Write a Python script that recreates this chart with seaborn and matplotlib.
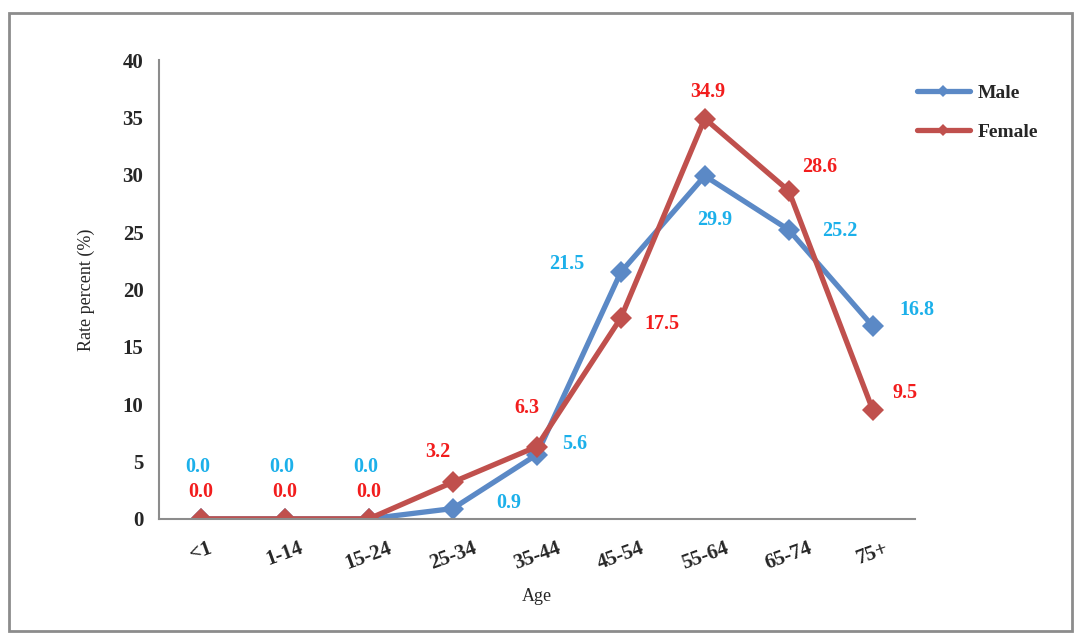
import pandas as pd
import matplotlib.pyplot as plt
import seaborn as sns
from matplotlib.patches import Rectangle

# Data
ages = ['<1', '1-14', '15-24', '25-34', '35-44', '45-54', '55-64', '65-74', '75+']
male = [0.0, 0.0, 0.0, 0.9, 5.6, 21.5, 29.9, 25.2, 16.8]
female = [0.0, 0.0, 0.0, 3.2, 6.3, 17.5, 34.9, 28.6, 9.5]

# label offsets (points) for each data label
male_off = [(-2, 37), (-2, 37), (-2, 37), (40, 4), (27, 8), (-39, 6), (7, -32), (37, -1), (32, 12)]
female_off = [(0, 19), (0, 19), (0, 19), (-11, 22), (-7, 28), (30, -4), (2, 19), (22, 17), (23, 12)]

df = pd.DataFrame({
    'Age': ages * 2,
    'Rate': male + female,
    'Sex': ['Male'] * len(ages) + ['Female'] * len(ages),
})

sns.set_style("white")
plt.rcParams['font.family'] = ['Liberation Serif', 'DejaVu Serif']

fig = plt.figure(figsize=(10.8, 6.39), dpi=100)
ax = fig.add_axes([0.147, 0.188, 0.70, 0.718])

colors = {'Male': '#5B89C6', 'Female': '#C0504D'}
sns.lineplot(data=df, x='Age', y='Rate', hue='Sex', palette=colors, style='Sex',
             markers={'Male': 'D', 'Female': 'D'}, dashes=False, linewidth=3.8,
             markersize=11.5, markeredgewidth=0, sort=False, ax=ax)

x = list(range(len(ages)))
for i in x:
    ax.annotate(f'{male[i]:.1f}', (i, male[i]), xytext=male_off[i], textcoords='offset points',
                ha='center', va='center', color='#1CB0EA', fontsize=14.5, fontweight='bold')
    ax.annotate(f'{female[i]:.1f}', (i, female[i]), xytext=female_off[i], textcoords='offset points',
                ha='center', va='center', color='#F21D1D', fontsize=14.5, fontweight='bold')

ax.set_xlim(-0.5, len(ages) - 0.5)
ax.set_ylim(0, 40)
ax.set_yticks(range(0, 41, 5))
ax.set_xticks(x)
ax.set_xticklabels(ages, rotation=20, fontsize=15, fontweight='bold')
ax.set_xticks([i - 0.5 for i in range(len(ages) + 1)], minor=True)
ax.tick_params(axis='x', which='major', length=0, pad=14)
ax.tick_params(axis='x', which='minor', length=5, width=1.2, color='#8C8C8C', direction='in')
ax.tick_params(axis='y', length=5, width=1.2, color='#8C8C8C', direction='out',
               labelsize=15, pad=6)
for lbl in ax.get_yticklabels():
    lbl.set_fontweight('bold')

ax.set_xlabel('Age', fontsize=13, labelpad=10)
ax.set_ylabel('Rate percent (%)', fontsize=13, labelpad=20)

sns.despine(ax=ax)
for s in ['left', 'bottom']:
    ax.spines[s].set_color('#8C8C8C')
    ax.spines[s].set_linewidth(1.5)

leg = ax.legend(loc='upper left', bbox_to_anchor=(0.98, 0.985), frameon=False,
                prop={'size': 14, 'weight': 'bold'}, handlelength=2.7, labelspacing=1.1,
                handletextpad=0.4)
for h in leg.legend_handles:
    h.set_markersize(6)

# outer frame
fig.patches.append(Rectangle((0.008, 0.012), 0.985, 0.968, transform=fig.transFigure,
                             fill=False, edgecolor='#8C8C8C', linewidth=2))

fig.savefig('out.png', dpi=100)
